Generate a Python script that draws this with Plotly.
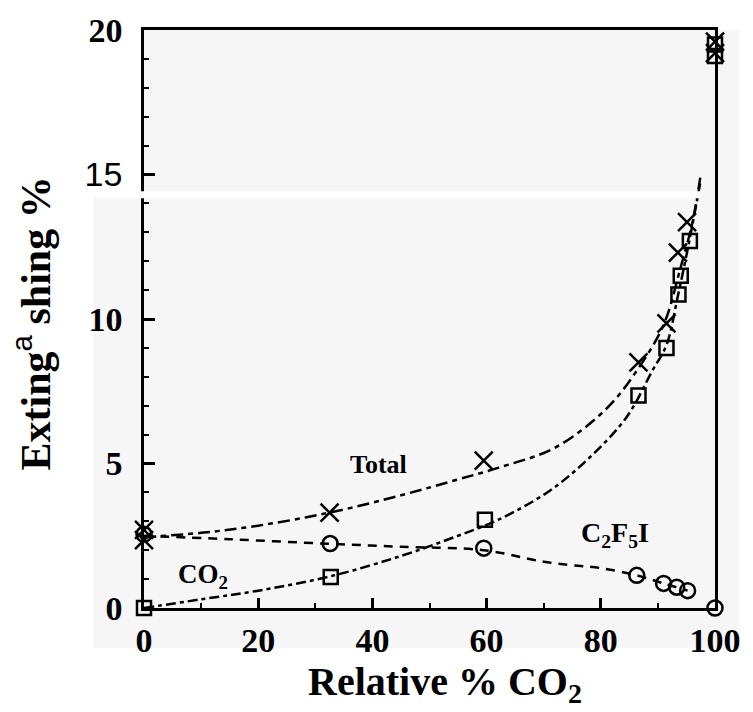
import plotly.graph_objects as go

# ---- data ----
total_x = [0, 0, 32.5, 59.5, 86.6, 91.5, 93.5, 95.1, 100, 100]
total_y = [2.7, 2.35, 3.3, 5.1, 8.5, 9.85, 12.3, 13.35, 19.6, 19.2]

co2_x = [0, 32.7, 59.7, 86.6, 91.5, 93.6, 94.0, 95.6, 100, 100]
co2_y = [0, 1.07, 3.05, 7.35, 9.0, 10.85, 11.5, 12.7, 19.5, 19.1]

c2f5i_x = [0, 32.6, 59.5, 86.3, 91.0, 93.3, 95.2, 100]
c2f5i_y = [2.55, 2.23, 2.07, 1.13, 0.85, 0.72, 0.6, 0]

total_fit_x = [0, 10, 20, 32.5, 45, 55, 62, 72, 81, 86.6, 91, 94, 96, 97.5]
total_fit_y = [2.45, 2.6, 2.85, 3.3, 3.9, 4.45, 4.85, 5.55, 6.9, 8.3, 9.8, 11.8, 13.3, 15.0]

co2_fit_x = [0, 10, 20, 32.7, 45, 55, 61.8, 71, 78, 84.5, 89, 91.5, 93.5, 95.5, 97.5]
co2_fit_y = [0, 0.3, 0.6, 1.1, 1.8, 2.5, 3.03, 4.05, 5.2, 6.6, 8.2, 9.1, 10.8, 12.7, 14.8]

c2f5i_fit_x = [0, 15, 32.6, 45, 59.5, 70, 75, 80, 86.3, 91, 95.2]
c2f5i_fit_y = [2.5, 2.38, 2.22, 2.12, 2.0, 1.6, 1.48, 1.38, 1.13, 0.85, 0.6]

x_ticks = [0, 20, 40, 60, 80, 100]
y_ticks = [0, 5, 10, 15, 20]
y_ticktext = ["0", "5", "10",
              "<span style='font-family:Liberation Sans;font-weight:normal'>15</span>", "20"]

# ---- layout geometry (pixels) ----
W, H = 753, 712
L, R, T, B = 144, 33, 27, 104
PW, PH = W - L - R, H - T - B


def px(xp):
    return (xp - L) / PW


def py(yp):
    return (H - B - yp) / PH


GRAY = "#f6f6f6"
SERIF = "Liberation Serif"

fig = go.Figure()

# fitted curves
fig.add_trace(go.Scatter(x=total_fit_x, y=total_fit_y, mode="lines",
                         line=dict(color="black", width=2.5, dash="12px,5px,5px,5px", shape="spline"),
                         hoverinfo="skip", showlegend=False))
fig.add_trace(go.Scatter(x=co2_fit_x, y=co2_fit_y, mode="lines",
                         line=dict(color="black", width=2.5, dash="10px,4px,4px,4px", shape="spline"),
                         hoverinfo="skip", showlegend=False))
fig.add_trace(go.Scatter(x=c2f5i_fit_x, y=c2f5i_fit_y, mode="lines",
                         line=dict(color="black", width=2.5, dash="9px,7px", shape="spline"),
                         hoverinfo="skip", showlegend=False))

# markers
fig.add_trace(go.Scatter(x=total_x, y=total_y, mode="markers", name="Total",
                         marker=dict(symbol="x-thin-open", size=18, color="black",
                                     line=dict(color="black", width=2.5)),
                         cliponaxis=False, showlegend=False))
fig.add_trace(go.Scatter(x=co2_x, y=co2_y, mode="markers", name="CO2",
                         marker=dict(symbol="square-open", size=14, color="black",
                                     line=dict(color="black", width=2.5)),
                         cliponaxis=False, showlegend=False))
fig.add_trace(go.Scatter(x=c2f5i_x, y=c2f5i_y, mode="markers", name="C2F5I",
                         marker=dict(symbol="circle-open", size=15, color="black",
                                     line=dict(color="black", width=2.5)),
                         cliponaxis=False, showlegend=False))

shapes = [
    dict(type="rect", xref="paper", yref="paper", layer="below",
         x0=px(93), x1=px(745), y0=py(648), y1=py(196),
         fillcolor=GRAY, line=dict(width=0)),
    dict(type="rect", xref="paper", yref="paper", layer="below",
         x0=px(144), x1=px(745), y0=py(196), y1=py(27),
         fillcolor=GRAY, line=dict(width=0)),
    dict(type="rect", xref="paper", yref="paper", layer="above",
         x0=px(93), x1=px(705), y0=py(196), y1=py(189),
         fillcolor="white", line=dict(width=0)),
]

annotations = [
    dict(x=41.1, y=4.96, xref="x", yref="y", text="Total", showarrow=False,
         font=dict(family=SERIF, size=26, color="black", weight="bold")),
    dict(x=10.4, y=1.1, xref="x", yref="y", text="CO<sub>2</sub>", showarrow=False,
         font=dict(family=SERIF, size=27, color="black", weight="bold")),
    dict(x=82.4, y=2.55, xref="x", yref="y", text="C<sub>2</sub>F<sub>5</sub>I", showarrow=False,
         font=dict(family=SERIF, size=28, color="black", weight="bold")),
    dict(x=px(448), y=py(684), xref="paper", yref="paper", text="Relative % CO<sub>2</sub>",
         xanchor="center", yanchor="middle",
         showarrow=False, font=dict(family=SERIF, size=40, color="black", weight="bold")),
    dict(x=px(32), y=py(322), xref="paper", yref="paper",
         text="Exting<span style='font-weight:normal;font-family:Liberation Sans'><sup>a</sup></span> shing %",
         textangle=-90, showarrow=False, xanchor="center", yanchor="middle",
         font=dict(family=SERIF, size=42, color="black", weight="bold")),
]

fig.update_layout(
    width=W, height=H,
    margin=dict(l=L, r=R, t=T, b=B, pad=0),
    paper_bgcolor="white",
    plot_bgcolor="rgba(0,0,0,0)",
    shapes=shapes,
    annotations=annotations,
    showlegend=False,
)

fig.update_xaxes(
    range=[0, 100], tickvals=x_ticks, ticktext=[str(v) for v in x_ticks],
    ticks="inside", ticklen=10, tickwidth=2.5, tickcolor="black",
    showline=True, linewidth=2.5, linecolor="black", mirror=True,
    showgrid=False, zeroline=False,
    tickfont=dict(family=SERIF, size=34, color="black", weight="bold"),
    ticklabelstandoff=0,
    minor=dict(dtick=10, ticks="inside", ticklen=5, tickwidth=2, tickcolor="black", showgrid=False),
)
fig.update_yaxes(
    range=[0, 20], tickvals=y_ticks, ticktext=y_ticktext,
    ticks="inside", ticklen=11, tickwidth=2.5, tickcolor="black",
    showline=True, linewidth=2.5, linecolor="black", mirror=True,
    showgrid=False, zeroline=False,
    tickfont=dict(family=SERIF, size=34, color="black", weight="bold"),
    ticklabelstandoff=12,
    minor=dict(dtick=1, ticks="inside", ticklen=5, tickwidth=2, tickcolor="black", showgrid=False),
)

fig.write_html("out.html")
